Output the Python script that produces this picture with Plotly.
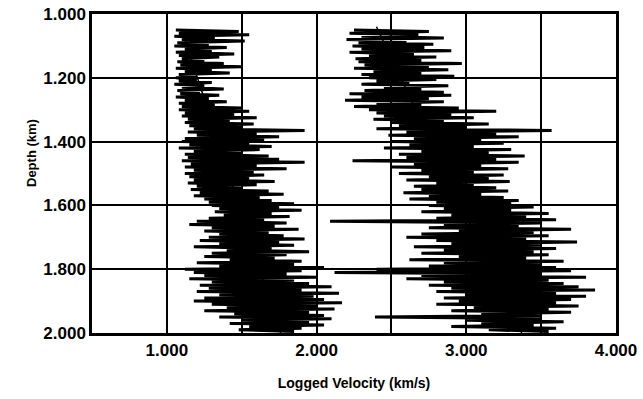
import plotly.graph_objects as go

# depth sampling of the logs (km)
depth_start = 1.05
depth_step = 0.005

# left log velocities (km/s), one value per depth sample
left_velocity = [
    1.06, 1.48, 1.08, 1.55, 1.05, 1.32, 1.10, 1.52, 1.07, 1.28,
    1.05, 1.40, 1.12, 1.30, 1.06, 1.45, 1.08, 1.35, 1.10, 1.25,
    1.07, 1.38, 1.09, 1.50, 1.06, 1.30, 1.12, 1.42, 1.08, 1.20,
    1.06, 1.20, 1.08, 1.30, 1.05, 1.25, 1.10, 1.38, 1.07, 1.22,
    1.09, 1.35, 1.06, 1.28, 1.12, 1.40, 1.08, 1.32, 1.10, 1.50,
    1.08, 1.55, 1.12, 1.45, 1.10, 1.60, 1.14, 1.42, 1.12, 1.58,
    1.15, 1.50, 1.18, 1.92, 1.14, 1.60, 1.20, 1.75, 1.12, 1.65,
    1.10, 1.55, 1.15, 1.70, 1.08, 1.62, 1.18, 1.50, 1.12, 1.68,
    1.14, 1.75, 1.10, 1.92, 1.16, 1.60, 1.12, 1.80, 1.18, 1.58,
    1.12, 1.65, 1.15, 1.55, 1.18, 1.72, 1.14, 1.60, 1.20, 1.50,
    1.16, 1.68, 1.22, 1.78, 1.18, 1.62, 1.25, 1.70, 1.28, 1.85,
    1.30, 1.75, 1.35, 1.90, 1.32, 1.70, 1.38, 1.82, 1.28, 1.65,
    1.20, 1.80, 1.15, 1.72, 1.30, 1.88, 1.25, 1.68, 1.35, 1.78,
    1.28, 1.92, 1.22, 1.75, 1.35, 1.85, 1.18, 1.70, 1.40, 1.95,
    1.30, 1.80, 1.25, 1.72, 1.42, 1.90, 1.20, 1.85, 1.35, 2.05,
    1.12, 1.90, 1.18, 1.80, 1.25, 2.00, 1.15, 1.85, 1.30, 1.95,
    1.22, 2.10, 1.28, 1.90, 1.20, 2.15, 1.35, 1.98, 1.25, 2.05,
    1.18, 2.17, 1.30, 2.00, 1.40, 2.12, 1.25, 1.95, 1.45, 2.05,
    1.35, 2.10, 1.50, 1.95, 1.42, 2.05, 1.55, 1.90, 1.48, 1.85,
]

# right log velocities (km/s)
right_velocity = [
    2.25, 2.75, 2.22, 2.68, 2.30, 2.85, 2.20, 2.60, 2.28, 2.78,
    2.24, 2.72, 2.30, 2.90, 2.22, 2.65, 2.35, 2.80, 2.26, 2.70,
    2.28, 2.97, 2.32, 2.75, 2.25, 2.88, 2.38, 2.70, 2.30, 2.92,
    2.35, 2.80, 2.40, 2.62, 2.30, 2.88, 2.45, 2.70, 2.32, 2.85,
    2.22, 2.90, 2.30, 2.75, 2.19, 2.85, 2.40, 2.70, 2.25, 2.95,
    2.35, 3.20, 2.40, 2.90, 2.45, 3.05, 2.38, 2.85, 2.50, 3.15,
    2.55, 3.00, 2.40, 3.57, 2.60, 3.20, 2.48, 3.35, 2.65, 3.10,
    2.50, 3.25, 2.62, 3.05, 2.45, 3.30, 2.70, 3.15, 2.55, 3.39,
    2.60, 3.20, 2.24, 3.35, 2.65, 3.10, 2.50, 3.28, 2.70, 3.05,
    2.55, 3.25, 2.75, 3.15, 2.60, 3.29, 2.80, 3.05, 2.65, 3.20,
    2.70, 3.28, 2.58, 3.10, 2.75, 3.25, 2.62, 3.35, 2.80, 3.30,
    2.75, 3.45, 2.85, 3.30, 2.70, 3.55, 2.90, 3.40, 2.80, 3.60,
    2.09, 3.50, 2.85, 3.35, 2.75, 3.70, 2.95, 3.45, 2.70, 3.55,
    2.60, 3.40, 2.80, 3.74, 2.90, 3.50, 2.65, 3.60, 2.85, 3.45,
    2.70, 3.55, 2.95, 3.40, 2.62, 3.65, 2.85, 3.50, 2.75, 3.60,
    2.40, 3.70, 2.12, 3.50, 2.70, 3.80, 2.60, 3.55, 2.85, 3.65,
    2.75, 3.75, 2.90, 3.86, 2.80, 3.60, 3.00, 3.80, 2.85, 3.70,
    2.95, 3.60, 2.80, 3.75, 3.05, 3.55, 2.90, 3.70, 3.10, 3.50,
    2.39, 3.50, 3.00, 3.65, 3.10, 3.45, 2.90, 3.60, 3.15, 3.55,
]

# trend lines (velocity, depth end points)
left_trend_velocity = [1.10, 1.76]
left_trend_depth = [1.05, 2.00]
right_trend_velocity = [2.40, 3.37]
right_trend_depth = [1.04, 2.00]

# axis ticks
x_tick_values = [0.5, 1.0, 1.5, 2.0, 2.5, 3.0, 3.5, 4.0]
x_tick_labels = ["", "1.000", "", "2.000", "", "3.000", "", "4.000"]
y_tick_values = [1.0, 1.2, 1.4, 1.6, 1.8, 2.0]
y_tick_labels = ["1.000", "1.200", "1.400", "1.600", "1.800", "2.000"]

left_depth = [depth_start + depth_step * i for i in range(len(left_velocity))]
right_depth = [depth_start + depth_step * i for i in range(len(right_velocity))]

fig = go.Figure()
fig.add_trace(go.Scatter(x=left_velocity, y=left_depth, mode="lines",
                         line=dict(color="black", width=3), showlegend=False))
fig.add_trace(go.Scatter(x=right_velocity, y=right_depth, mode="lines",
                         line=dict(color="black", width=3), showlegend=False))
fig.add_trace(go.Scatter(x=left_trend_velocity, y=left_trend_depth, mode="lines",
                         line=dict(color="black", width=1.5), showlegend=False))
fig.add_trace(go.Scatter(x=right_trend_velocity, y=right_trend_depth, mode="lines",
                         line=dict(color="black", width=1.5), showlegend=False))

fig.update_layout(
    width=643, height=399,
    margin=dict(l=92, r=27, t=14, b=66),
    paper_bgcolor="white", plot_bgcolor="white",
    font=dict(family="Liberation Sans", color="black", size=15, weight="bold"),
    xaxis=dict(
        range=[0.5, 4.0], tickvals=x_tick_values, ticktext=x_tick_labels,
        showgrid=True, gridcolor="black", gridwidth=2,
        showline=True, linecolor="black", linewidth=2.5, mirror=True,
        ticks="", tickfont=dict(size=17, weight="bold"), zeroline=False,
        automargin=False,
        title=dict(text="Logged Velocity (km/s)",
                   font=dict(size=14, weight="bold"), standoff=20),
    ),
    yaxis=dict(
        range=[2.0, 1.0], tickvals=y_tick_values, ticktext=y_tick_labels,
        showgrid=True, gridcolor="black", gridwidth=2,
        showline=True, linecolor="black", linewidth=2.5, mirror=True,
        ticks="", tickfont=dict(size=17, weight="bold"), zeroline=False,
        automargin=False,
    ),
    annotations=[dict(
        text="Depth (km)", textangle=-90, showarrow=False,
        xref="paper", yref="paper", x=-(92 - 31) / 524, y=(333 - 153) / 319,
        xanchor="center", yanchor="middle",
        font=dict(size=13, weight="bold", family="Liberation Sans", color="black"),
    )],
)

fig.write_html("out.html")
